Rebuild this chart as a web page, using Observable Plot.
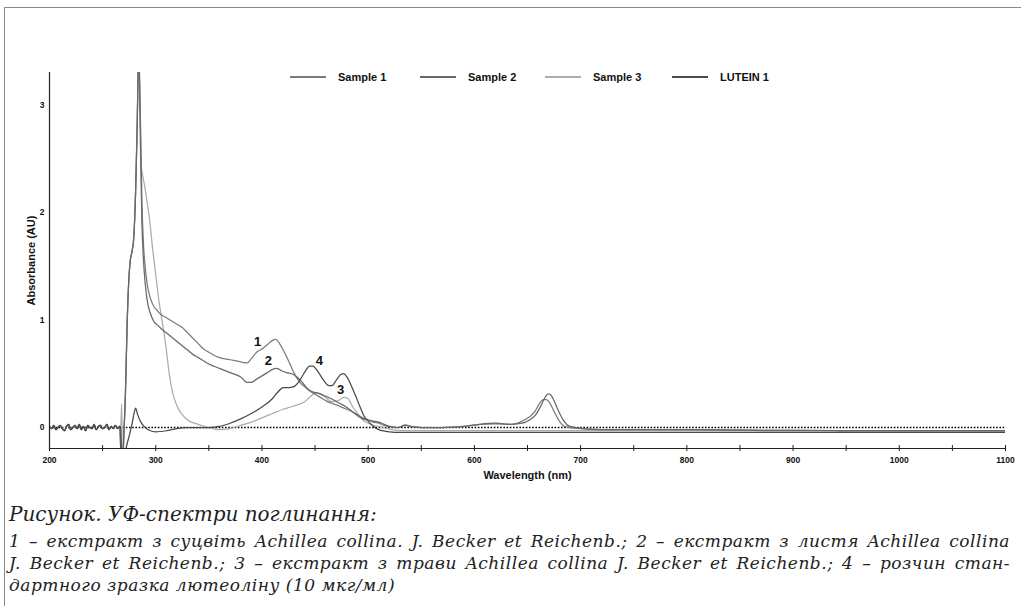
<!DOCTYPE html>
<html>
<head>
<meta charset="utf-8">
<script src="https://cdn.jsdelivr.net/npm/d3@7"></script>
<script src="https://cdn.jsdelivr.net/npm/@observablehq/plot@0.6"></script>
<style>
  html, body { margin: 0; padding: 0; background: #fff; width: 1021px; height: 606px; overflow: hidden; }
  #frame { position: absolute; left: 4px; top: 7px; width: 1030px; height: 620px;
           border-top: 1.5px solid #8a8a8a; border-left: 1.5px solid #8a8a8a; }
  #chart { position: absolute; left: 0; top: 0; }
  #legend { position: absolute; top: 71px; left: 0; font: bold 11px "Liberation Sans", Arial, sans-serif; color: #111; }
  .item { position: absolute; display: flex; align-items: center; white-space: nowrap; }
  .sw { width: 36px; height: 2px; margin-right: 12px; }
  #caption { position: absolute; left: 9px; top: 501px; width: 1001px;
             font-family: "DejaVu Serif", serif; font-style: italic; color: #222; }
  #caption .head { font-size: 20px; line-height: 26px; margin-bottom: 3px; letter-spacing: 0px; }
  #caption .ln { font-size: 17px; line-height: 22px; white-space: nowrap; letter-spacing: 0.5px; }
  #caption .just { text-align: justify; text-align-last: justify; }
</style>
</head>
<body>
<div id="frame"></div>
<div id="chart"></div>
<div id="legend"></div>
<div id="caption"></div>
<script>
// ---- data ----
const seriesNames = ["Sample 1", "Sample 2", "Sample 3", "LUTEIN 1"];
const seriesColors = ["#7b7b7b", "#686868", "#ababab", "#4a4a4a"];

// baseline noise 200–266 nm (shared by all traces)
const noiseNm  = [200,202,204,206,208,210,212,214,216,218,220,222,224,226,228,230,232,234,236,238,240,242,244,246,248,250,252,254,256,258,260,262,264,266];
const noiseAbs = [0.01,-0.01,0.02,-0.02,0.00,0.02,-0.01,-0.03,0.01,0.03,-0.02,0.00,0.02,-0.01,0.03,-0.02,0.01,-0.03,0.02,0.00,-0.01,0.03,-0.02,0.01,0.02,-0.01,0.00,0.03,-0.02,0.01,-0.01,0.02,-0.01,0.01];

const s1Nm  = [268,269,269.7,271.5,273,274.6,276,277.8,279.3,281,282.5,284,285.5,287,288.5,290,292,295,298,302,305,310,315,320,325,330,335,340,345,350,355,360,370,380,386,390,395,400,405,410,413,416,420,425,430,435,440,445,450,455,460,470,480,490,495,500,505,510,515,520,528,535,540,550,570,590,605,620,635,645,652,657,661,665,668,671,675,680,685,690,700,720,800,900,1000,1100];
const s1Abs = [-0.4,-0.4,-0.15,0.32,0.93,1.36,1.55,1.64,1.76,2.17,2.79,3.5,2.9,2.1,1.7,1.5,1.33,1.2,1.13,1.08,1.05,1.02,0.99,0.96,0.93,0.88,0.83,0.78,0.73,0.70,0.67,0.65,0.63,0.61,0.60,0.64,0.70,0.73,0.77,0.81,0.82,0.79,0.72,0.62,0.51,0.43,0.38,0.34,0.31,0.28,0.25,0.21,0.17,0.12,0.09,0.07,0.05,0.04,0.02,0.01,0.0,0.025,0.01,0.0,0.0,0.01,0.03,0.035,0.03,0.06,0.10,0.15,0.22,0.26,0.26,0.23,0.15,0.06,0.01,0.0,-0.01,-0.02,-0.02,-0.025,-0.03,-0.03];

const s2Nm  = [268,269,269.7,271.5,273,274.6,276,277.8,279.3,281,282.5,284,285.5,287,288.5,290,292,295,298,302,305,310,315,320,325,330,335,340,345,350,360,370,380,386,390,395,400,405,410,414,418,423,428,433,438,443,448,453,458,465,472,478,485,490,495,500,505,510,515,520,528,535,540,550,570,590,605,620,635,645,652,657,662,666,669,671,674,678,683,688,695,720,800,900,1000,1100];
const s2Abs = [-0.4,-0.4,-0.15,0.32,0.93,1.36,1.55,1.64,1.76,2.17,2.79,3.5,2.7,1.9,1.55,1.35,1.18,1.06,0.99,0.95,0.92,0.88,0.84,0.80,0.76,0.72,0.68,0.65,0.62,0.59,0.55,0.51,0.47,0.42,0.42,0.45,0.48,0.51,0.54,0.55,0.53,0.51,0.50,0.47,0.42,0.36,0.33,0.32,0.30,0.27,0.23,0.20,0.15,0.11,0.08,0.07,0.06,0.05,0.03,0.01,0.0,0.02,0.01,0.0,0.0,0.01,0.03,0.04,0.03,0.04,0.07,0.11,0.19,0.27,0.31,0.31,0.27,0.18,0.08,0.02,0.0,-0.02,-0.02,-0.03,-0.03,-0.03];

const s3Nm  = [267,268,268.6,269.7,271.5,273,274.6,276,277.8,279.3,281,282.5,284,285.5,286.5,288,290,291.5,294,297,300,303,307,310,313,316,320,325,330,340,350,360,370,380,390,400,410,420,430,440,446,450,455,460,466,472,477,481,485,490,495,500,505,515,522,530,545,560,580,600,620,640,660,680,700,720,800,900,940,950,1100];
const s3Abs = [0.0,0.22,-0.4,-0.15,0.32,0.93,1.36,1.55,1.64,1.76,2.17,2.79,3.5,2.9,2.42,2.33,2.22,2.12,1.95,1.67,1.42,1.18,0.93,0.72,0.48,0.32,0.20,0.12,0.07,0.03,0.0,-0.02,-0.01,0.02,0.05,0.09,0.13,0.17,0.20,0.24,0.29,0.32,0.31,0.28,0.24,0.25,0.28,0.27,0.20,0.13,0.07,0.04,0.02,0.0,-0.02,-0.03,-0.03,-0.03,-0.03,-0.03,-0.03,-0.03,-0.03,-0.03,-0.03,-0.03,-0.03,-0.03,-0.03,-0.04,-0.04];

const lutNm  = [267,268,270,272,275,278,280,281,283,286,290,295,300,310,320,330,340,350,360,370,380,390,400,410,415,420,425,430,435,440,445,448,452,458,463,466,470,474,477,480,484,488,492,496,500,505,510,520,530,600,700,800,900,1000,1100];
const lutAbs = [0.0,-0.35,-0.35,-0.2,-0.08,0.05,0.15,0.18,0.12,0.05,0.0,-0.03,-0.04,-0.03,-0.01,0.0,0.0,0.0,0.01,0.04,0.08,0.13,0.19,0.27,0.33,0.37,0.37,0.38,0.43,0.51,0.57,0.57,0.53,0.44,0.39,0.39,0.44,0.49,0.50,0.47,0.39,0.30,0.20,0.11,0.06,0.01,-0.02,-0.04,-0.045,-0.045,-0.045,-0.045,-0.045,-0.045,-0.045];

// curve labels on the plot
const peakLabels = ["1", "2", "4", "3"];
const peakLabelNm = [396, 406, 454, 474];
const peakLabelAbs = [0.80, 0.62, 0.62, 0.35];

const xTicksMajor = [200,300,400,500,600,700,800,900,1000,1100];
const xTicksAll = [200,250,300,350,400,450,500,550,600,650,700,750,800,850,900,950,1000,1050,1100];
const yTicks = [0,1,2,3];

const captionHead = "Рисунок. УФ-спектри поглинання:";
const captionLines = [
  "1 – екстракт з суцвіть Achillea collina. J. Becker et Reichenb.; 2 – екстракт з листя Achillea collina",
  "J. Becker et Reichenb.; 3 – екстракт з трави Achillea collina J. Becker et Reichenb.; 4 – розчин стан-",
  "дартного зразка лютеоліну (10 мкг/мл)"
];

// ---- build table ----
const rows = [];
function addSeries(name, nm, ab) {
  noiseNm.forEach((x, i) => rows.push({series: name, nm: x, abs: noiseAbs[i]}));
  nm.forEach((x, i) => rows.push({series: name, nm: x, abs: ab[i]}));
}
addSeries("Sample 3", s3Nm, s3Abs);
addSeries("Sample 1", s1Nm, s1Abs);
addSeries("Sample 2", s2Nm, s2Abs);
addSeries("LUTEIN 1", lutNm, lutAbs);

const labels = peakLabels.map((t, i) => ({t, nm: peakLabelNm[i], abs: peakLabelAbs[i]}));

const chart = Plot.plot({
  width: 1021,
  height: 490,
  marginLeft: 49,
  marginRight: 16,
  marginTop: 72,
  marginBottom: 42,
  style: {fontFamily: "'Liberation Sans Narrow', 'Liberation Sans', Arial, sans-serif", fontSize: "8.5px", fontWeight: "bold", color: "#111", background: "transparent"},
  x: {domain: [200, 1100]},
  y: {domain: [-0.195, 3.3]},
  color: {domain: seriesNames, range: seriesColors},
  marks: [
    Plot.ruleY([0], {stroke: "#000", strokeWidth: 1.7, strokeDasharray: "1.6,1.6"}),
    Plot.line(rows, {x: "nm", y: "abs", z: "series", stroke: "series", strokeWidth: 1.25, clip: true, curve: "monotone-x"}),
    Plot.text(labels, {x: "nm", y: "abs", text: "t", fontSize: 13, fontWeight: "bold", fill: "#111",
      fontFamily: "'Liberation Sans', Arial, sans-serif"}),
    Plot.frame({anchor: "bottom", stroke: "#222", strokeWidth: 1.2}),
    Plot.frame({anchor: "left", stroke: "#222", strokeWidth: 1.2}),
    Plot.axisX({ticks: xTicksAll, tickSize: 3, tickPadding: 5, stroke: "#222",
      tickFormat: d => xTicksMajor.includes(d) ? String(d) : "",
      label: "Wavelength (nm)", labelAnchor: "center", labelArrow: "none", labelOffset: 30}),
    Plot.axisX({ticks: xTicksAll, tickSize: 3, dy: -3, text: null, label: null, stroke: "#222"}),
    Plot.axisY({ticks: yTicks, tickSize: 0, tickPadding: 5, tickFormat: d => String(d),
      label: "Absorbance (AU)", labelAnchor: "center", labelArrow: "none", labelOffset: 22})
  ]
});
// enlarge axis titles
chart.querySelectorAll("text").forEach(t => {
  if (t.textContent === "Wavelength (nm)" || t.textContent === "Absorbance (AU)") {
    t.style.fontSize = "11px";
    t.style.fontFamily = "'Liberation Sans', Arial, sans-serif";
  }
});
document.getElementById("chart").appendChild(chart);

// legend
const legendX = [290, 420, 545, 672];
const legend = document.getElementById("legend");
seriesNames.forEach((n, i) => {
  const it = document.createElement("div");
  it.className = "item";
  it.style.left = legendX[i] + "px";
  it.innerHTML = `<span class="sw" style="background:${seriesColors[i]}"></span><span>${n}</span>`;
  legend.appendChild(it);
});

// caption
const cap = document.getElementById("caption");
cap.innerHTML = `<div class="head">${captionHead}</div>` +
  captionLines.map((l, i) => `<div class="ln ${i < 2 ? 'just' : ''}">${l}</div>`).join("");
</script>
</body>
</html>
